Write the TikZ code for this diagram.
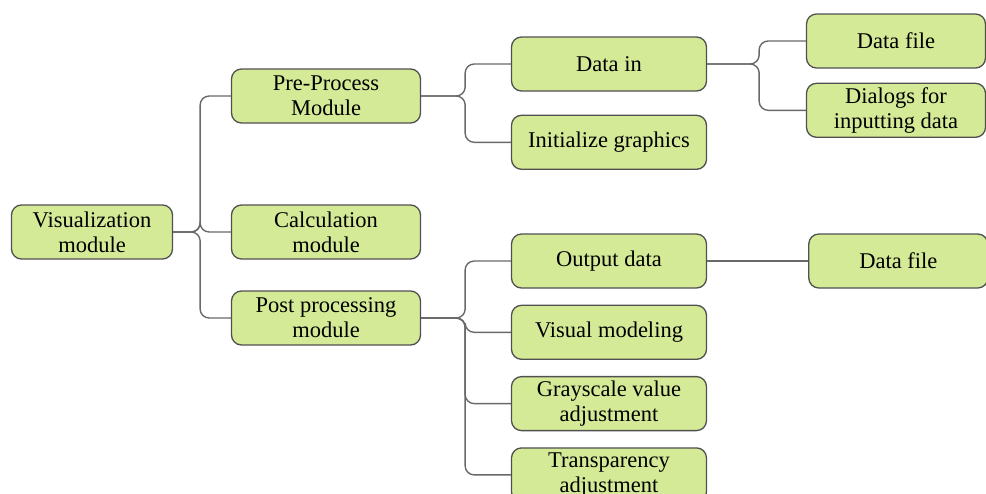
\documentclass[tikz,border=0pt]{standalone}
\usepackage{fontspec}
\setmainfont{Liberation Serif}
\usetikzlibrary{positioning}
\definecolor{leafgreen}{RGB}{212,234,150}
\definecolor{edgegray}{RGB}{80,80,80}
\definecolor{linegray}{RGB}{105,105,105}

\begin{document}
\begin{tikzpicture}[x=1pt,y=-1pt,node distance=16pt,
  every node/.style={font=\fontsize{22.5}{25}\selectfont,align=center},
  box/.style={draw=edgegray,line width=1.3pt,rounded corners=10pt,fill=leafgreen,minimum height=54pt,inner sep=2pt},
  midbox/.style={box,minimum width=189pt},
  subbox/.style={box,minimum width=195pt},
  tipbox/.style={box,minimum width=179pt},
  link/.style={draw=linegray,line width=1.4pt,rounded corners=9pt}]
\useasboundingbox (0,0) rectangle (986,493);
% root and first level
\node[box,minimum width=161pt] (vis) at (92,232) {Visualization\\module};
\node[midbox] (pre) at (326,96) {Pre-Process\\Module};
\node[midbox] (calc) at (326,232) {Calculation\\module};
\node[midbox] (post) at (326,318) {Post processing\\module};
% pre-process branch
\node[subbox] (datain) at (609,64) {Data in};
\node[subbox,below=23pt of datain] (init) {Initialize graphics};
\node[tipbox] (file) at (896,41) {Data file};
\node[tipbox,below=14pt of file] (dialog) {Dialogs for\\inputting data};
% post-processing branch
\node[subbox] (out) at (609,261) {Output data};
\node[subbox,below=of out] (model) {Visual modeling};
\node[subbox,below=of model] (gray) {Grayscale value\\adjustment};
\node[subbox,below=of gray] (trans) {Transparency\\adjustment};
\node[tipbox,right=101pt of out] (outfile) {Data file};
% connectors
\foreach \c in {pre,calc,post} \draw[link] (vis.east) -- ++(27,0) |- (\c.west);
\foreach \c in {datain,init} \draw[link] (pre.east) -- ++(44,0) |- (\c.west);
\foreach \c in {file,dialog} \draw[link] (datain.east) -- ++(52,0) |- (\c.west);
\foreach \c in {out,model,gray,trans} \draw[link] (post.east) -- ++(44,0) |- (\c.west);
\draw[link] (out) -- (outfile);
\end{tikzpicture}
\end{document}
